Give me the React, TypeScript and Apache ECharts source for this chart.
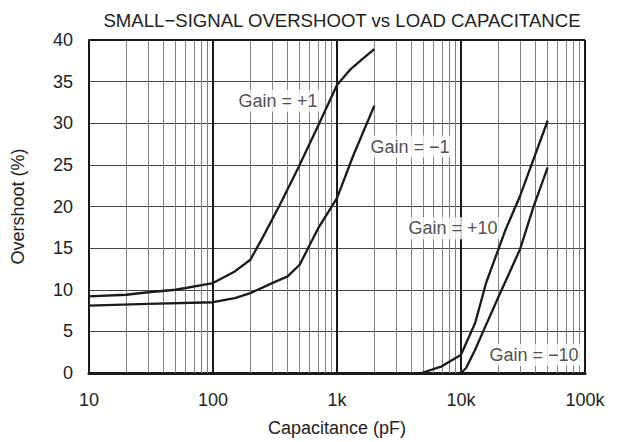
import React, { useEffect, useRef } from "react";
import * as echarts from "echarts";

const titleText = "SMALL\u2212SIGNAL OVERSHOOT vs LOAD CAPACITANCE";
const xName = "Capacitance (pF)";
const yName = "Overshoot (%)";

const decades = [10, 100, 1000, 10000];
const minorMultipliers = [2, 3, 4, 5, 6, 7, 8, 9];
const xTickLabels: Record<number, string> = { 10: "10", 100: "100", 1000: "1k", 10000: "10k", 100000: "100k" };

const gainP1X = [10, 20, 30, 50, 100, 150, 200, 250, 343, 482, 720, 1000, 1270, 1600, 2000];
const gainP1Y = [9.2, 9.4, 9.7, 10.0, 10.8, 12.2, 13.6, 16.2, 20.1, 24.5, 30.0, 34.6, 36.4, 37.7, 38.9];

const gainM1X = [10, 30, 100, 150, 200, 300, 400, 500, 700, 1000, 1350, 2000];
const gainM1Y = [8.1, 8.3, 8.5, 9.0, 9.6, 10.8, 11.6, 13.0, 17.3, 21.0, 26.1, 32.1];

const gainP10X = [4800, 7000, 10000, 13000, 16000, 23000, 30000, 50000];
const gainP10Y = [0, 0.8, 2.2, 6.0, 10.9, 17.3, 21.3, 30.3];

const gainM10X = [10000, 11000, 13000, 15100, 20000, 30000, 38300, 50000];
const gainM10Y = [0, 0.6, 2.8, 5.0, 9.1, 14.9, 19.9, 24.7];

const labelTexts = ["Gain = +1", "Gain = \u22121", "Gain = +10", "Gain = \u221210"];
const labelX = [334, 3880, 8610, 38800];
const labelY = [32.7, 27.2, 17.4, 2.15];

const FONT = "'Liberation Sans', Arial, Helvetica, sans-serif";

function zip(xs: number[], ys: number[]) {
  return xs.map((x, i) => [x, ys[i]]);
}

export default function App() {
  const ref = useRef<HTMLDivElement>(null);
  useEffect(() => {
    if (!ref.current) return;
    document.body.style.margin = "0";
    const chart = echarts.init(ref.current, undefined, { renderer: "svg" });
    const minorTicks = decades.flatMap((d) => minorMultipliers.map((m) => m * d));
    const curveStyle = { color: "#1a1a1a", width: 2.3 };
    const lineSeries = (data: number[][]) => ({
      type: "line",
      data,
      symbol: "none",
      smooth: false,
      lineStyle: curveStyle,
      z: 5,
    });
    chart.setOption({
      animation: false,
      backgroundColor: "#fff",
      title: {
        text: titleText,
        left: 337,
        top: 6,
        textAlign: "center",
        textStyle: { fontFamily: FONT, fontSize: 18.6, fontWeight: "normal", color: "#222" },
      },
      grid: { left: 89, right: 34, top: 40, bottom: 67, containLabel: false, show: false },
      xAxis: {
        type: "log",
        logBase: 10,
        min: 10,
        max: 100000,
        name: xName,
        nameLocation: "middle",
        nameGap: 46,
        nameTextStyle: { fontFamily: FONT, fontSize: 18, color: "#222" },
        axisLine: { show: true, lineStyle: { color: "#1a1a1a", width: 3 } },
        axisTick: { show: false },
        axisLabel: {
          fontFamily: FONT,
          fontSize: 18,
          color: "#222",
          margin: 18,
          formatter: (v: number) => xTickLabels[Math.round(v)] ?? "",
        },
        splitLine: { show: true, lineStyle: { color: "#1a1a1a", width: 2 } },
      },
      yAxis: {
        type: "value",
        min: 0,
        max: 40,
        interval: 5,
        name: yName,
        nameLocation: "middle",
        nameGap: 62,
        nameTextStyle: { fontFamily: FONT, fontSize: 18, color: "#222" },
        axisLine: { show: true, lineStyle: { color: "#1a1a1a", width: 2 } },
        axisTick: { show: false },
        axisLabel: { fontFamily: FONT, fontSize: 18, color: "#222", margin: 16 },
        splitLine: { show: true, lineStyle: { color: "#444", width: 1 } },
      },
      series: [
        {
          type: "line",
          data: [],
          silent: true,
          z: 1,
          markLine: {
            silent: true,
            symbol: "none",
            label: { show: false },
            lineStyle: { color: "#808080", width: 1, type: "solid" },
            data: minorTicks.map((v) => ({ xAxis: v })),
            z: 1,
          },
        },
        {
          type: "line",
          data: [],
          silent: true,
          z: 2,
          markLine: {
            silent: true,
            symbol: "none",
            label: { show: false },
            lineStyle: { color: "#1a1a1a", width: 2, type: "solid" },
            data: [{ yAxis: 40 }, { xAxis: 100000 }],
            z: 2,
          },
        },
        lineSeries(zip(gainP1X, gainP1Y)),
        lineSeries(zip(gainM1X, gainM1Y)),
        lineSeries(zip(gainP10X, gainP10Y)),
        lineSeries(zip(gainM10X, gainM10Y)),
        {
          type: "scatter",
          symbolSize: 1,
          itemStyle: { color: "rgba(0,0,0,0)" },
          z: 10,
          data: labelX.map((x, i) => [x, labelY[i], labelTexts[i]]),
          label: {
            show: true,
            position: "inside",
            formatter: (p: any) => p.data[2],
            fontFamily: FONT,
            fontSize: 18,
            color: "#222",
            backgroundColor: "#fff",
            padding: [2, 3],
          },
        },
      ],
    });
    return () => chart.dispose();
  }, []);
  return <div ref={ref} style={{ width: 619, height: 442 }} />;
}
